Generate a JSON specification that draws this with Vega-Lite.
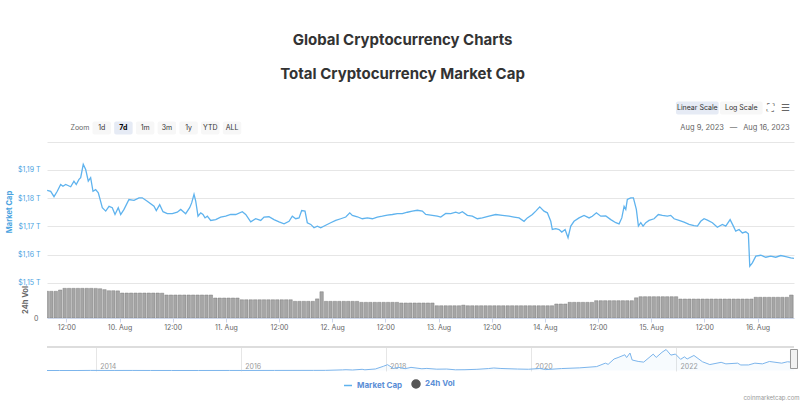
{
  "$schema": "https://vega.github.io/schema/vega-lite/v6.json",
  "background": "white",
  "padding": {"left": 5, "top": 33, "right": 0, "bottom": 0},
  "title": {
    "text": "Global Cryptocurrency Charts",
    "subtitle": "Total Cryptocurrency Market Cap",
    "fontSize": 15, "fontWeight": 700, "color": "#333333",
    "subtitleFontSize": 15, "subtitleFontWeight": 700, "subtitleColor": "#333333",
    "subtitlePadding": 18.5, "offset": 16.5, "anchor": "middle",
    "font": "Inter", "subtitleFont": "Inter"
  },
  "spacing": 15,
  "datasets": {
    "zoomBtns": [
      {"label": "Zoom", "row": "r2", "kind": "text"},
      {"label": "1d", "row": "r2", "kind": "off"},
      {"label": "7d", "row": "r2", "kind": "on"},
      {"label": "1m", "row": "r2", "kind": "off"},
      {"label": "3m", "row": "r2", "kind": "off"},
      {"label": "1y", "row": "r2", "kind": "off"},
      {"label": "YTD", "row": "r2", "kind": "off"},
      {"label": "ALL", "row": "r2", "kind": "off"}
    ],
    "scaleBtns": [
      {"label": "Linear Scale", "row": "r1", "kind": "on"},
      {"label": "Log Scale", "row": "r1", "kind": "off"}
    ],
    "icons": [
      {"label": "⛶", "row": "r1", "slot": "fs"},
      {"label": "☰", "row": "r1", "slot": "menu"}
    ],
    "range": [
      {"label": "Aug 9, 2023 \u2002—\u2002 Aug 16, 2023", "row": "r2", "slot": "end"}
    ],
    "price": [
      {"t":"2023-08-09T07:40","c":1.1827},{"t":"2023-08-09T08:28","c":1.1824},{"t":"2023-08-09T09:13","c":1.1805},{"t":"2023-08-09T09:57","c":1.1824},
      {"t":"2023-08-09T10:43","c":1.1848},{"t":"2023-08-09T11:14","c":1.1842},{"t":"2023-08-09T11:51","c":1.1848},{"t":"2023-08-09T12:59","c":1.1840},
      {"t":"2023-08-09T13:43","c":1.1860},{"t":"2023-08-09T14:14","c":1.1848},{"t":"2023-08-09T14:51","c":1.1866},{"t":"2023-08-09T15:14","c":1.1872},
      {"t":"2023-08-09T15:49","c":1.1919},{"t":"2023-08-09T16:22","c":1.1901},{"t":"2023-08-09T16:57","c":1.1860},{"t":"2023-08-09T17:29","c":1.1872},
      {"t":"2023-08-09T18:01","c":1.1824},{"t":"2023-08-09T18:37","c":1.1830},{"t":"2023-08-09T19:13","c":1.1819},{"t":"2023-08-09T20:07","c":1.1766},
      {"t":"2023-08-09T20:53","c":1.1754},{"t":"2023-08-09T21:38","c":1.1771},{"t":"2023-08-09T22:22","c":1.1766},{"t":"2023-08-09T22:59","c":1.1742},
      {"t":"2023-08-09T23:43","c":1.1766},{"t":"2023-08-10T00:16","c":1.1742},{"t":"2023-08-10T01:01","c":1.1760},{"t":"2023-08-10T02:08","c":1.1795},
      {"t":"2023-08-10T03:16","c":1.1792},{"t":"2023-08-10T04:24","c":1.1801},{"t":"2023-08-10T05:08","c":1.1801},{"t":"2023-08-10T06:16","c":1.1789},
      {"t":"2023-08-10T07:47","c":1.1771},{"t":"2023-08-10T08:18","c":1.1756},{"t":"2023-08-10T09:04","c":1.1777},{"t":"2023-08-10T09:49","c":1.1752},
      {"t":"2023-08-10T10:47","c":1.1745},{"t":"2023-08-10T11:55","c":1.1745},{"t":"2023-08-10T13:02","c":1.1750},{"t":"2023-08-10T13:49","c":1.1760},
      {"t":"2023-08-10T14:56","c":1.1745},{"t":"2023-08-10T15:50","c":1.1766},{"t":"2023-08-10T16:17","c":1.1783},{"t":"2023-08-10T16:49","c":1.1813},
      {"t":"2023-08-10T17:12","c":1.1789},{"t":"2023-08-10T17:43","c":1.1736},{"t":"2023-08-10T18:20","c":1.1748},{"t":"2023-08-10T18:50","c":1.1742},
      {"t":"2023-08-10T19:18","c":1.1730},{"t":"2023-08-10T19:49","c":1.1736},{"t":"2023-08-10T20:35","c":1.1721},{"t":"2023-08-10T21:43","c":1.1724},
      {"t":"2023-08-10T22:50","c":1.1733},{"t":"2023-08-10T23:58","c":1.1736},{"t":"2023-08-11T01:06","c":1.1742},{"t":"2023-08-11T02:14","c":1.1742},
      {"t":"2023-08-11T03:43","c":1.1752},{"t":"2023-08-11T04:29","c":1.1742},{"t":"2023-08-11T05:37","c":1.1716},{"t":"2023-08-11T06:44","c":1.1727},
      {"t":"2023-08-11T07:52","c":1.1721},{"t":"2023-08-11T08:37","c":1.1733},{"t":"2023-08-11T09:44","c":1.1734},{"t":"2023-08-11T10:52","c":1.1724},
      {"t":"2023-08-11T12:00","c":1.1716},{"t":"2023-08-11T13:08","c":1.1709},{"t":"2023-08-11T14:16","c":1.1718},{"t":"2023-08-11T15:00","c":1.1736},
      {"t":"2023-08-11T15:46","c":1.1727},{"t":"2023-08-11T16:31","c":1.1730},{"t":"2023-08-11T17:07","c":1.1756},{"t":"2023-08-11T17:52","c":1.1754},
      {"t":"2023-08-11T18:23","c":1.1713},{"t":"2023-08-11T19:10","c":1.1707},{"t":"2023-08-11T19:54","c":1.1695},{"t":"2023-08-11T20:39","c":1.1701},
      {"t":"2023-08-11T21:25","c":1.1695},{"t":"2023-08-11T22:32","c":1.1704},{"t":"2023-08-11T23:40","c":1.1713},{"t":"2023-08-12T00:48","c":1.1721},
      {"t":"2023-08-12T01:56","c":1.1727},{"t":"2023-08-12T03:04","c":1.1733},{"t":"2023-08-12T03:58","c":1.1748},{"t":"2023-08-12T04:33","c":1.1739},
      {"t":"2023-08-12T05:41","c":1.1734},{"t":"2023-08-12T06:48","c":1.1727},{"t":"2023-08-12T07:56","c":1.1730},{"t":"2023-08-12T09:04","c":1.1727},
      {"t":"2023-08-12T10:11","c":1.1733},{"t":"2023-08-12T11:19","c":1.1736},{"t":"2023-08-12T12:27","c":1.1740},{"t":"2023-08-12T13:35","c":1.1742},
      {"t":"2023-08-12T14:42","c":1.1745},{"t":"2023-08-12T15:50","c":1.1745},{"t":"2023-08-12T16:58","c":1.1750},{"t":"2023-08-12T18:05","c":1.1754},
      {"t":"2023-08-12T19:13","c":1.1757},{"t":"2023-08-12T20:21","c":1.1754},{"t":"2023-08-12T21:07","c":1.1742},{"t":"2023-08-12T22:36","c":1.1739},
      {"t":"2023-08-12T23:44","c":1.1736},{"t":"2023-08-13T00:30","c":1.1733},{"t":"2023-08-13T01:38","c":1.1746},{"t":"2023-08-13T02:46","c":1.1745},
      {"t":"2023-08-13T03:53","c":1.1750},{"t":"2023-08-13T04:38","c":1.1746},{"t":"2023-08-13T05:23","c":1.1752},{"t":"2023-08-13T06:31","c":1.1739},
      {"t":"2023-08-13T07:38","c":1.1736},{"t":"2023-08-13T08:46","c":1.1727},{"t":"2023-08-13T09:53","c":1.1730},{"t":"2023-08-13T11:24","c":1.1736},
      {"t":"2023-08-13T12:55","c":1.1742},{"t":"2023-08-13T14:25","c":1.1739},{"t":"2023-08-13T15:55","c":1.1736},{"t":"2023-08-13T17:03","c":1.1733},
      {"t":"2023-08-13T18:11","c":1.1730},{"t":"2023-08-13T19:18","c":1.1718},{"t":"2023-08-13T20:03","c":1.1730},{"t":"2023-08-13T21:11","c":1.1742},
      {"t":"2023-08-13T21:57","c":1.1754},{"t":"2023-08-13T22:51","c":1.1769},{"t":"2023-08-13T23:49","c":1.1754},{"t":"2023-08-14T00:34","c":1.1748},
      {"t":"2023-08-14T01:20","c":1.1718},{"t":"2023-08-14T01:41","c":1.1689},{"t":"2023-08-14T02:28","c":1.1692},{"t":"2023-08-14T03:13","c":1.1689},
      {"t":"2023-08-14T03:49","c":1.1680},{"t":"2023-08-14T04:34","c":1.1689},{"t":"2023-08-14T05:14","c":1.1660},{"t":"2023-08-14T05:51","c":1.1701},
      {"t":"2023-08-14T06:35","c":1.1718},{"t":"2023-08-14T07:43","c":1.1730},{"t":"2023-08-14T08:51","c":1.1739},{"t":"2023-08-14T09:59","c":1.1730},
      {"t":"2023-08-14T10:43","c":1.1736},{"t":"2023-08-14T11:38","c":1.1748},{"t":"2023-08-14T12:37","c":1.1736},{"t":"2023-08-14T13:45","c":1.1737},
      {"t":"2023-08-14T14:53","c":1.1724},{"t":"2023-08-14T16:01","c":1.1713},{"t":"2023-08-14T16:45","c":1.1709},{"t":"2023-08-14T17:22","c":1.1730},
      {"t":"2023-08-14T17:53","c":1.1771},{"t":"2023-08-14T18:16","c":1.1760},{"t":"2023-08-14T18:37","c":1.1795},{"t":"2023-08-14T19:23","c":1.1801},
      {"t":"2023-08-14T19:59","c":1.1801},{"t":"2023-08-14T20:39","c":1.1760},{"t":"2023-08-14T21:07","c":1.1701},{"t":"2023-08-14T21:39","c":1.1713},
      {"t":"2023-08-14T22:10","c":1.1701},{"t":"2023-08-14T22:47","c":1.1713},{"t":"2023-08-14T23:31","c":1.1721},{"t":"2023-08-15T00:39","c":1.1727},
      {"t":"2023-08-15T01:37","c":1.1742},{"t":"2023-08-15T02:31","c":1.1739},{"t":"2023-08-15T03:39","c":1.1736},{"t":"2023-08-15T04:25","c":1.1739},
      {"t":"2023-08-15T05:10","c":1.1727},{"t":"2023-08-15T06:17","c":1.1721},{"t":"2023-08-15T07:25","c":1.1715},{"t":"2023-08-15T08:33","c":1.1707},
      {"t":"2023-08-15T09:41","c":1.1703},{"t":"2023-08-15T10:26","c":1.1701},{"t":"2023-08-15T11:11","c":1.1718},{"t":"2023-08-15T11:56","c":1.1727},
      {"t":"2023-08-15T12:41","c":1.1722},{"t":"2023-08-15T13:49","c":1.1713},{"t":"2023-08-15T14:56","c":1.1697},{"t":"2023-08-15T16:04","c":1.1707},
      {"t":"2023-08-15T16:50","c":1.1701},{"t":"2023-08-15T17:49","c":1.1724},{"t":"2023-08-15T18:33","c":1.1701},{"t":"2023-08-15T19:05","c":1.1683},
      {"t":"2023-08-15T19:50","c":1.1689},{"t":"2023-08-15T20:35","c":1.1677},{"t":"2023-08-15T21:21","c":1.1681},{"t":"2023-08-15T21:56","c":1.1674},
      {"t":"2023-08-15T22:15","c":1.1559},{"t":"2023-08-15T22:50","c":1.1571},{"t":"2023-08-15T23:37","c":1.1595},{"t":"2023-08-16T00:44","c":1.1598},
      {"t":"2023-08-16T01:52","c":1.1591},{"t":"2023-08-16T02:59","c":1.1595},{"t":"2023-08-16T04:07","c":1.1591},{"t":"2023-08-16T05:15","c":1.1597},
      {"t":"2023-08-16T06:23","c":1.1593},{"t":"2023-08-16T07:31","c":1.1589},{"t":"2023-08-16T08:14","c":1.1587}
    ],
    "vol": [
      {"t":"2023-08-09T07:00","v":37.0},{"t":"2023-08-09T08:00","v":37.0},{"t":"2023-08-09T09:00","v":37.0},{"t":"2023-08-09T10:00","v":38.8},
      {"t":"2023-08-09T11:00","v":41.1},{"t":"2023-08-09T12:00","v":41.1},{"t":"2023-08-09T13:00","v":41.1},{"t":"2023-08-09T14:00","v":41.1},
      {"t":"2023-08-09T15:00","v":41.1},{"t":"2023-08-09T16:00","v":41.1},{"t":"2023-08-09T17:00","v":41.1},{"t":"2023-08-09T18:00","v":41.0},
      {"t":"2023-08-09T19:00","v":40.6},{"t":"2023-08-09T20:00","v":39.3},{"t":"2023-08-09T21:00","v":37.8},{"t":"2023-08-09T22:00","v":37.8},
      {"t":"2023-08-09T23:00","v":37.6},
      {"t":"2023-08-10T00:00","v":34.6},{"t":"2023-08-10T01:00","v":34.6},{"t":"2023-08-10T02:00","v":34.6},{"t":"2023-08-10T03:00","v":34.6},
      {"t":"2023-08-10T04:00","v":34.6},{"t":"2023-08-10T05:00","v":34.6},{"t":"2023-08-10T06:00","v":34.6},{"t":"2023-08-10T07:00","v":34.6},
      {"t":"2023-08-10T08:00","v":34.6},{"t":"2023-08-10T09:00","v":34.4},{"t":"2023-08-10T10:00","v":31.9},{"t":"2023-08-10T11:00","v":31.9},
      {"t":"2023-08-10T12:00","v":31.9},{"t":"2023-08-10T13:00","v":31.9},{"t":"2023-08-10T14:00","v":31.9},{"t":"2023-08-10T15:00","v":31.9},
      {"t":"2023-08-10T16:00","v":31.9},{"t":"2023-08-10T17:00","v":31.9},{"t":"2023-08-10T18:00","v":31.9},{"t":"2023-08-10T19:00","v":31.9},
      {"t":"2023-08-10T20:00","v":31.9},{"t":"2023-08-10T21:00","v":27.7},{"t":"2023-08-10T22:00","v":27.7},{"t":"2023-08-10T23:00","v":27.7},
      {"t":"2023-08-11T00:00","v":27.7},{"t":"2023-08-11T01:00","v":27.7},{"t":"2023-08-11T02:00","v":27.7},{"t":"2023-08-11T03:00","v":25.3},
      {"t":"2023-08-11T04:00","v":25.3},{"t":"2023-08-11T05:00","v":25.3},{"t":"2023-08-11T06:00","v":25.3},{"t":"2023-08-11T07:00","v":25.3},
      {"t":"2023-08-11T08:00","v":25.3},{"t":"2023-08-11T09:00","v":25.3},{"t":"2023-08-11T10:00","v":25.3},{"t":"2023-08-11T11:00","v":25.3},
      {"t":"2023-08-11T12:00","v":25.3},{"t":"2023-08-11T13:00","v":25.3},{"t":"2023-08-11T14:00","v":25.3},{"t":"2023-08-11T15:00","v":23.1},
      {"t":"2023-08-11T16:00","v":23.1},{"t":"2023-08-11T17:00","v":23.1},{"t":"2023-08-11T18:00","v":23.1},{"t":"2023-08-11T19:00","v":23.1},
      {"t":"2023-08-11T20:00","v":26.5},{"t":"2023-08-11T21:00","v":36.4},{"t":"2023-08-11T22:00","v":23.1},{"t":"2023-08-11T23:00","v":23.1},
      {"t":"2023-08-12T00:00","v":23.1},{"t":"2023-08-12T01:00","v":23.1},{"t":"2023-08-12T02:00","v":23.1},{"t":"2023-08-12T03:00","v":23.1},
      {"t":"2023-08-12T04:00","v":23.1},{"t":"2023-08-12T05:00","v":23.1},{"t":"2023-08-12T06:00","v":21.7},{"t":"2023-08-12T07:00","v":21.7},
      {"t":"2023-08-12T08:00","v":21.7},{"t":"2023-08-12T09:00","v":21.7},{"t":"2023-08-12T10:00","v":21.7},{"t":"2023-08-12T11:00","v":21.7},
      {"t":"2023-08-12T12:00","v":21.7},{"t":"2023-08-12T13:00","v":21.7},{"t":"2023-08-12T14:00","v":21.7},{"t":"2023-08-12T15:00","v":20.8},
      {"t":"2023-08-12T16:00","v":20.8},{"t":"2023-08-12T17:00","v":20.8},{"t":"2023-08-12T18:00","v":20.8},{"t":"2023-08-12T19:00","v":20.8},
      {"t":"2023-08-12T20:00","v":20.8},{"t":"2023-08-12T21:00","v":20.8},{"t":"2023-08-12T22:00","v":20.8},{"t":"2023-08-12T23:00","v":17.0},
      {"t":"2023-08-13T00:00","v":17.0},{"t":"2023-08-13T01:00","v":17.0},{"t":"2023-08-13T02:00","v":17.0},{"t":"2023-08-13T03:00","v":17.0},
      {"t":"2023-08-13T04:00","v":17.0},{"t":"2023-08-13T05:00","v":17.8},{"t":"2023-08-13T06:00","v":17.0},{"t":"2023-08-13T07:00","v":17.0},
      {"t":"2023-08-13T08:00","v":17.0},{"t":"2023-08-13T09:00","v":17.0},{"t":"2023-08-13T10:00","v":17.0},{"t":"2023-08-13T11:00","v":17.0},
      {"t":"2023-08-13T12:00","v":17.0},{"t":"2023-08-13T13:00","v":17.0},{"t":"2023-08-13T14:00","v":17.0},{"t":"2023-08-13T15:00","v":17.0},
      {"t":"2023-08-13T16:00","v":17.0},{"t":"2023-08-13T17:00","v":17.0},{"t":"2023-08-13T18:00","v":17.0},{"t":"2023-08-13T19:00","v":17.0},
      {"t":"2023-08-13T20:00","v":17.0},{"t":"2023-08-13T21:00","v":17.0},{"t":"2023-08-13T22:00","v":17.0},{"t":"2023-08-13T23:00","v":17.0},
      {"t":"2023-08-14T00:00","v":17.0},{"t":"2023-08-14T01:00","v":17.0},{"t":"2023-08-14T02:00","v":19.4},{"t":"2023-08-14T03:00","v":19.4},
      {"t":"2023-08-14T04:00","v":19.4},{"t":"2023-08-14T05:00","v":21.7},{"t":"2023-08-14T06:00","v":21.7},{"t":"2023-08-14T07:00","v":21.7},
      {"t":"2023-08-14T08:00","v":21.7},{"t":"2023-08-14T09:00","v":21.7},{"t":"2023-08-14T10:00","v":21.7},{"t":"2023-08-14T11:00","v":24.0},
      {"t":"2023-08-14T12:00","v":24.0},{"t":"2023-08-14T13:00","v":24.0},{"t":"2023-08-14T14:00","v":24.0},{"t":"2023-08-14T15:00","v":24.0},
      {"t":"2023-08-14T16:00","v":24.0},{"t":"2023-08-14T17:00","v":24.0},{"t":"2023-08-14T18:00","v":24.0},{"t":"2023-08-14T19:00","v":24.0},
      {"t":"2023-08-14T20:00","v":28.0},{"t":"2023-08-14T21:00","v":29.5},{"t":"2023-08-14T22:00","v":29.5},{"t":"2023-08-14T23:00","v":29.5},
      {"t":"2023-08-15T00:00","v":29.5},{"t":"2023-08-15T01:00","v":29.5},{"t":"2023-08-15T02:00","v":29.5},{"t":"2023-08-15T03:00","v":29.5},
      {"t":"2023-08-15T04:00","v":29.5},{"t":"2023-08-15T05:00","v":29.5},{"t":"2023-08-15T06:00","v":26.3},{"t":"2023-08-15T07:00","v":26.3},
      {"t":"2023-08-15T08:00","v":26.3},{"t":"2023-08-15T09:00","v":26.3},{"t":"2023-08-15T10:00","v":26.3},{"t":"2023-08-15T11:00","v":26.3},
      {"t":"2023-08-15T12:00","v":26.3},{"t":"2023-08-15T13:00","v":26.3},{"t":"2023-08-15T14:00","v":26.3},{"t":"2023-08-15T15:00","v":26.3},
      {"t":"2023-08-15T16:00","v":26.3},{"t":"2023-08-15T17:00","v":26.3},{"t":"2023-08-15T18:00","v":26.3},{"t":"2023-08-15T19:00","v":26.3},
      {"t":"2023-08-15T20:00","v":26.3},{"t":"2023-08-15T21:00","v":26.3},{"t":"2023-08-15T22:00","v":26.3},{"t":"2023-08-15T23:00","v":28.7},
      {"t":"2023-08-16T00:00","v":28.7},{"t":"2023-08-16T01:00","v":28.7},{"t":"2023-08-16T02:00","v":28.7},{"t":"2023-08-16T03:00","v":28.7},
      {"t":"2023-08-16T04:00","v":28.7},{"t":"2023-08-16T05:00","v":28.7},{"t":"2023-08-16T06:00","v":28.7},{"t":"2023-08-16T07:00","v":31.9},
      {"t":"2023-08-16T08:00","v":31.9}
    ],
    "hist": [
      {"d":"2013-04-28","mc":0.0015},{"d":"2013-07-01","mc":0.0010},{"d":"2013-10-01","mc":0.0015},{"d":"2013-12-04","mc":0.0135},
      {"d":"2014-01-05","mc":0.0110},{"d":"2014-04-01","mc":0.0060},{"d":"2014-07-01","mc":0.0085},{"d":"2014-10-01","mc":0.0050},
      {"d":"2015-01-15","mc":0.0030},{"d":"2015-06-01","mc":0.0035},{"d":"2015-11-04","mc":0.0060},{"d":"2016-01-01","mc":0.0070},
      {"d":"2016-06-17","mc":0.0120},{"d":"2016-12-31","mc":0.0180},{"d":"2017-03-01","mc":0.0220},{"d":"2017-05-25","mc":0.0900},
      {"d":"2017-06-12","mc":0.1150},{"d":"2017-07-15","mc":0.0750},{"d":"2017-09-01","mc":0.1700},{"d":"2017-09-15","mc":0.1000},
      {"d":"2017-11-07","mc":0.2200},{"d":"2017-12-17","mc":0.6000},{"d":"2018-01-07","mc":0.8300},{"d":"2018-02-06","mc":0.3000},
      {"d":"2018-03-05","mc":0.4500},{"d":"2018-04-06","mc":0.2600},{"d":"2018-05-05","mc":0.4500},{"d":"2018-06-29","mc":0.2500},
      {"d":"2018-07-24","mc":0.3000},{"d":"2018-09-12","mc":0.1900},{"d":"2018-11-01","mc":0.2100},{"d":"2018-12-15","mc":0.1000},
      {"d":"2019-02-01","mc":0.1150},{"d":"2019-04-02","mc":0.1700},{"d":"2019-05-30","mc":0.2800},{"d":"2019-06-26","mc":0.3600},
      {"d":"2019-08-01","mc":0.2900},{"d":"2019-10-24","mc":0.2100},{"d":"2019-12-18","mc":0.1800},{"d":"2020-02-13","mc":0.2900},
      {"d":"2020-03-13","mc":0.1300},{"d":"2020-06-01","mc":0.2800},{"d":"2020-09-01","mc":0.3800},{"d":"2020-11-25","mc":0.5600},
      {"d":"2021-01-08","mc":1.0500},{"d":"2021-01-22","mc":0.8800},{"d":"2021-02-21","mc":1.6500},{"d":"2021-03-13","mc":1.8500},
      {"d":"2021-04-16","mc":2.2500},{"d":"2021-04-25","mc":1.8500},{"d":"2021-05-12","mc":2.5000},{"d":"2021-05-23","mc":1.5000},
      {"d":"2021-06-22","mc":1.3000},{"d":"2021-07-20","mc":1.2000},{"d":"2021-09-06","mc":2.3400},{"d":"2021-09-21","mc":1.8700},
      {"d":"2021-10-20","mc":2.6000},{"d":"2021-11-10","mc":3.0000},{"d":"2021-12-04","mc":2.2000},{"d":"2021-12-27","mc":2.3500},
      {"d":"2022-01-22","mc":1.6000},{"d":"2022-02-10","mc":1.9500},{"d":"2022-02-24","mc":1.6500},{"d":"2022-03-30","mc":2.1500},
      {"d":"2022-05-12","mc":1.2500},{"d":"2022-06-18","mc":0.8500},{"d":"2022-08-14","mc":1.1700},{"d":"2022-09-07","mc":0.9500},
      {"d":"2022-11-05","mc":1.0500},{"d":"2022-11-21","mc":0.7900},{"d":"2022-12-30","mc":0.7950},{"d":"2023-01-31","mc":1.0500},
      {"d":"2023-03-10","mc":0.9500},{"d":"2023-04-14","mc":1.2900},{"d":"2023-06-15","mc":1.0500},{"d":"2023-07-14","mc":1.2500},
      {"d":"2023-08-16","mc":1.1600}
    ],
    "series": [{"s": "Market Cap"}, {"s": "24h Vol"}]
  },
  "vconcat": [
    {
      "width": 747,
      "height": 44,
      "layer": [
        {
          "data": {"values": [{"k": "a"}, {"k": "b"}]},
          "mark": {"type": "point", "opacity": 0},
          "encoding": {
            "x": {"field": "k", "type": "nominal", "axis": {"orient": "bottom", "domain": true, "domainColor": "#e6e6e6", "labels": false, "ticks": false, "title": null, "grid": false}}
          }
        },
        {
          "data": {"name": "zoomBtns"},
          "encoding": {
            "x": {"field": "label", "type": "nominal", "scale": {"type": "band", "domain": ["Zoom", "1d", "7d", "1m", "3m", "1y", "YTD", "ALL"], "range": [22.1, 195.9], "paddingInner": 0.15, "paddingOuter": 0.075}, "axis": null},
            "y": {"field": "row", "type": "nominal", "scale": {"type": "band", "domain": ["r1", "r2"], "range": [0, 40], "paddingInner": 0.35, "paddingOuter": 0.175}, "axis": null}
          },
          "layer": [
            {"transform": [{"filter": "datum.kind != 'text'"}], "mark": {"type": "rect", "cornerRadius": 2}, "encoding": {"color": {"field": "kind", "type": "nominal", "scale": {"domain": ["off", "on"], "range": ["#f7f7f7", "#e6ebf5"]}, "legend": null}}},
            {"transform": [{"filter": "datum.kind == 'text'"}], "mark": {"type": "text", "fontSize": 7, "color": "#666666"}, "encoding": {"text": {"field": "label"}}},
            {"transform": [{"filter": "datum.kind == 'off'"}], "mark": {"type": "text", "fontSize": 7, "color": "#333333"}, "encoding": {"text": {"field": "label"}}},
            {"transform": [{"filter": "datum.kind == 'on'"}], "mark": {"type": "text", "fontSize": 7, "color": "#000000", "fontWeight": "bold"}, "encoding": {"text": {"field": "label"}}}
          ]
        },
        {
          "data": {"name": "scaleBtns"},
          "encoding": {
            "x": {"field": "label", "type": "nominal", "scale": {"type": "band", "domain": ["Linear Scale", "Log Scale"], "range": [628.3, 716.3], "paddingInner": 0.03, "paddingOuter": 0.015}, "axis": null},
            "y": {"field": "row", "type": "nominal", "scale": {"type": "band", "domain": ["r1", "r2"], "range": [0, 40], "paddingInner": 0.35, "paddingOuter": 0.175}, "axis": null}
          },
          "layer": [
            {"mark": {"type": "rect", "cornerRadius": 2}, "encoding": {"color": {"field": "kind", "type": "nominal", "scale": {"domain": ["off", "on"], "range": ["#f7f7f7", "#e6ebf5"]}, "legend": null}}},
            {"mark": {"type": "text", "fontSize": 7, "color": "#333333"}, "encoding": {"text": {"field": "label"}}}
          ]
        },
        {
          "data": {"name": "icons"},
          "mark": {"type": "text", "fontSize": 10, "color": "#666666"},
          "encoding": {
            "x": {"field": "slot", "type": "nominal", "scale": {"type": "point", "domain": ["fs", "menu"], "range": [723, 738.7], "padding": 0}, "axis": null},
            "y": {"field": "row", "type": "nominal", "scale": {"type": "band", "domain": ["r1", "r2"], "range": [0, 40], "paddingInner": 0.35, "paddingOuter": 0.175}, "axis": null},
            "text": {"field": "label"}
          }
        },
        {
          "data": {"name": "range"},
          "mark": {"type": "text", "fontSize": 7.5, "color": "#666666", "align": "right"},
          "encoding": {
            "x": {"field": "slot", "type": "nominal", "scale": {"type": "point", "domain": ["end"], "range": [740, 745.4], "padding": 0}, "axis": null},
            "y": {"field": "row", "type": "nominal", "scale": {"type": "band", "domain": ["r1", "r2"], "range": [0, 40], "paddingInner": 0.35, "paddingOuter": 0.175}, "axis": null},
            "text": {"field": "label"}
          }
        }
      ],
      "resolve": {"scale": {"x": "independent"}}
    },
    {
      "width": 747,
      "height": 161,
      "layer": [
        {
          "data": {"name": "vol"},
          "mark": {"type": "bar", "clip": true, "fill": "#a6a6a6", "stroke": "#707070", "strokeWidth": 0.4},
          "encoding": {
            "x": {
              "field": "t", "type": "temporal", "timeUnit": "yearmonthdatehours",
              "scale": {"domain": [{"year": 2023, "month": 8, "date": 9, "hours": 7, "minutes": 38}, {"year": 2023, "month": 8, "date": 16, "hours": 8, "minutes": 14}]},
              "axis": {
                "values": [
                  {"year": 2023, "month": 8, "date": 9, "hours": 12}, {"year": 2023, "month": 8, "date": 10, "hours": 0},
                  {"year": 2023, "month": 8, "date": 10, "hours": 12}, {"year": 2023, "month": 8, "date": 11, "hours": 0},
                  {"year": 2023, "month": 8, "date": 11, "hours": 12}, {"year": 2023, "month": 8, "date": 12, "hours": 0},
                  {"year": 2023, "month": 8, "date": 12, "hours": 12}, {"year": 2023, "month": 8, "date": 13, "hours": 0},
                  {"year": 2023, "month": 8, "date": 13, "hours": 12}, {"year": 2023, "month": 8, "date": 14, "hours": 0},
                  {"year": 2023, "month": 8, "date": 14, "hours": 12}, {"year": 2023, "month": 8, "date": 15, "hours": 0},
                  {"year": 2023, "month": 8, "date": 15, "hours": 12}, {"year": 2023, "month": 8, "date": 16, "hours": 0}
                ],
                "labelExpr": "hours(datum.value) == 0 ? timeFormat(datum.value, '%-d. %b') : timeFormat(datum.value, '%H:%M')",
                "title": null, "grid": false, "domainColor": "#ccd6eb", "tickColor": "#ccd6eb", "tickSize": 4,
                "labelPadding": 1.5, "labelFontSize": 7, "labelColor": "#666666", "labelFlush": false, "labelOverlap": false
              }
            },
            "y": {
              "field": "v", "type": "quantitative",
              "scale": {"domain": [0, 223], "nice": false},
              "axis": {"orient": "left", "values": [0], "labelColor": "#666666", "labelFontSize": 7, "labelPadding": 9, "grid": false, "domain": false, "ticks": false,
                "title": "24h Vol", "titleColor": "#666666", "titleFontSize": 7.5, "titleFontWeight": "bold", "titlePadding": 4.5, "titleY": 142.5}
            }
          }
        },
        {
          "data": {"name": "price"},
          "mark": {"type": "line", "color": "#5fb3ee", "strokeWidth": 1.3, "clip": true},
          "encoding": {
            "x": {"field": "t", "type": "temporal"},
            "y": {
              "field": "c", "type": "quantitative",
              "scale": {"domain": [1.13763, 1.19452], "nice": false, "zero": false},
              "axis": {"orient": "left", "values": [1.15, 1.16, 1.17, 1.18, 1.19],
                "labelExpr": "'$' + replace(format(datum.value, '.2f'), '.', ',') + ' T'",
                "labelColor": "#4aa3df", "labelFontSize": 7, "labelPadding": 7, "grid": true, "gridColor": "#e6e6e6",
                "domain": false, "ticks": false, "title": "Market Cap", "titleColor": "#4aa3df", "titleFontSize": 7.5,
                "titleFontWeight": "bold", "titlePadding": 4, "titleY": 54.5}
            }
          }
        }
      ],
      "resolve": {"scale": {"y": "independent"}}
    },
    {
      "width": 747,
      "height": 24,
      "title": {"text": "coinmarketcap.com", "orient": "bottom", "anchor": "end", "fontSize": 6, "color": "#999999", "fontWeight": "normal", "offset": 22},
      "layer": [
        {
          "data": {"name": "hist"},
          "mark": {"type": "area", "color": "#7cb5ec", "fillOpacity": 0.06, "line": {"color": "#7cb5ec", "strokeWidth": 1}},
          "encoding": {
            "x": {
              "field": "d", "type": "temporal",
              "scale": {"domain": [{"year": 2013, "month": 4, "date": 28}, {"year": 2023, "month": 8, "date": 16}]},
              "axis": {
                "values": [{"year": 2014, "month": 1, "date": 1}, {"year": 2016, "month": 1, "date": 1}, {"year": 2018, "month": 1, "date": 1}, {"year": 2020, "month": 1, "date": 1}, {"year": 2022, "month": 1, "date": 1}],
                "format": "%Y", "grid": true, "gridColor": "#e6e6e6", "domain": false, "ticks": false, "tickSize": 0,
                "labelAlign": "left", "labelBaseline": "alphabetic", "labelPadding": -3, "labelOffset": 3.5,
                "labelFontSize": 7, "labelColor": "#999999", "title": null, "labelFlush": false, "labelOverlap": false
              }
            },
            "y": {"field": "mc", "type": "quantitative", "scale": {"domain": [-0.07, 3.36], "nice": false, "zero": false}, "axis": null}
          }
        },
        {
          "data": {"values": [{"k": 1}]},
          "mark": {"type": "rule", "color": "#dddddd", "strokeWidth": 2},
          "encoding": {"y": {"datum": 3.36}}
        },
        {
          "data": {"values": [{"k": 1}]},
          "mark": {"type": "point", "shape": "M-0.37,-1H0.37V1H-0.37Z", "size": 361, "filled": true, "fill": "#f2f2f2", "stroke": "#999999", "strokeWidth": 1, "opacity": 1},
          "encoding": {"x": {"datum": {"year": 2023, "month": 8, "date": 16}}, "y": {"datum": 1.645}}
        },
        {
          "data": {"name": "series"},
          "mark": {"type": "point", "filled": true, "opacity": 0},
          "encoding": {
            "fill": {"field": "s", "type": "nominal", "scale": {"domain": ["Market Cap", "24h Vol"], "range": ["#5fb3ee", "#555555"]},
              "legend": {"orient": "none", "legendX": 296, "legendY": 281, "direction": "horizontal", "title": null, "labelFontSize": 8, "labelFontWeight": "bold", "labelColor": "#5a8ed6", "symbolSize": 64, "symbolStrokeWidth": 1.5, "symbolOpacity": 1, "columnPadding": 6, "labelOffset": 4, "padding": 0}},
            "stroke": {"field": "s", "type": "nominal", "scale": {"domain": ["Market Cap", "24h Vol"], "range": ["#5fb3ee", "#555555"]},
              "legend": {"orient": "none", "legendX": 296, "legendY": 281, "direction": "horizontal", "title": null, "labelFontSize": 8, "labelFontWeight": "bold", "labelColor": "#5a8ed6", "symbolSize": 64, "symbolStrokeWidth": 1.5, "symbolOpacity": 1, "columnPadding": 6, "labelOffset": 4, "padding": 0}},
            "shape": {"field": "s", "type": "nominal", "scale": {"domain": ["Market Cap", "24h Vol"], "range": ["stroke", "circle"]},
              "legend": {"orient": "none", "legendX": 296, "legendY": 281, "direction": "horizontal", "title": null, "labelFontSize": 8, "labelFontWeight": "bold", "labelColor": "#5a8ed6", "symbolSize": 64, "symbolStrokeWidth": 1.5, "symbolOpacity": 1, "columnPadding": 6, "labelOffset": 4, "padding": 0}}
          }
        }
      ]
    }
  ],
  "config": {
    "font": "Inter",
    "view": {"stroke": null},
    "axis": {"labelFont": "Inter", "titleFont": "Inter"},
    "legend": {"labelFont": "Inter"},
    "text": {"font": "Inter"}
  }
}
